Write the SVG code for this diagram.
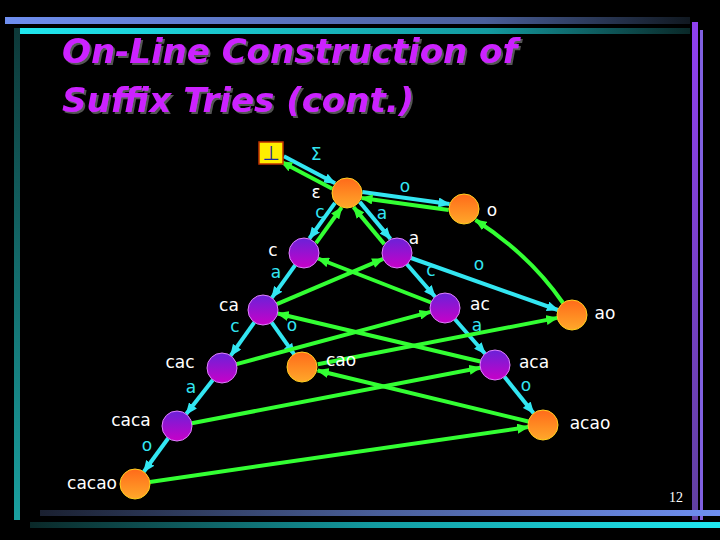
<svg xmlns="http://www.w3.org/2000/svg" width="720" height="540" viewBox="0 0 720 540">
<defs>
<linearGradient id="pg" x1="0" y1="0" x2="0" y2="1"><stop offset="0" stop-color="#6a22d8"/><stop offset="1" stop-color="#c800c8"/></linearGradient>
<linearGradient id="og" x1="0" y1="0" x2="0" y2="1"><stop offset="0" stop-color="#ff6a1a"/><stop offset="1" stop-color="#ffa82a"/></linearGradient>
<linearGradient id="bar1" x1="0" y1="0" x2="1" y2="0"><stop offset="0" stop-color="#6f8ff0"/><stop offset="0.7" stop-color="#4a5f9a"/><stop offset="1" stop-color="#101820"/></linearGradient>
<linearGradient id="bar2" x1="0" y1="0" x2="1" y2="0"><stop offset="0" stop-color="#20e8f0"/><stop offset="0.7" stop-color="#139aa0"/><stop offset="1" stop-color="#0a2828"/></linearGradient>
<linearGradient id="bar3" x1="0" y1="0" x2="1" y2="0"><stop offset="0" stop-color="#1a2030"/><stop offset="0.5" stop-color="#4a5f9a"/><stop offset="1" stop-color="#6f8ff0"/></linearGradient>
<linearGradient id="bar4" x1="0" y1="0" x2="1" y2="0"><stop offset="0" stop-color="#0a2828"/><stop offset="0.5" stop-color="#139aa0"/><stop offset="1" stop-color="#20e8f0"/></linearGradient>
<linearGradient id="vl" x1="0" y1="0" x2="0" y2="1"><stop offset="0" stop-color="#0d3838"/><stop offset="1" stop-color="#1aa0a0"/></linearGradient>
<linearGradient id="vr" x1="0" y1="0" x2="0" y2="1"><stop offset="0" stop-color="#9040f0"/><stop offset="1" stop-color="#6040a0"/></linearGradient>
<filter id="sh" x="-5%" y="-20%" width="110%" height="140%"><feDropShadow dx="2" dy="2" stdDeviation="0.5" flood-color="#555"/></filter>
<marker id="ac" markerUnits="userSpaceOnUse" markerWidth="12" markerHeight="10" refX="11" refY="5" orient="auto"><path d="M0,0L12,5L0,10z" fill="#33e6f2"/></marker>
<marker id="ag" markerUnits="userSpaceOnUse" markerWidth="12" markerHeight="10" refX="11" refY="5" orient="auto"><path d="M0,0L12,5L0,10z" fill="#33ff33"/></marker>
</defs>
<style>
.cy{stroke:#33e6f2;stroke-width:4;fill:none;marker-end:url(#ac)}
.gr{stroke:#33ff33;stroke-width:4;fill:none;marker-end:url(#ag)}
.pn{fill:url(#pg);stroke:#e080ff;stroke-width:1}
.on{fill:url(#og);stroke:#ffd020;stroke-width:1}
.nl{font-family:"DejaVu Sans",sans-serif;font-size:17px;fill:#ffffff;text-anchor:middle}
.el{font-family:"DejaVu Sans",sans-serif;font-size:17px;fill:#33e6f2;text-anchor:middle}
.ti{font-family:"DejaVu Sans",sans-serif;font-size:34px;font-weight:bold;font-style:italic;fill:#cc22ff}
</style>
<rect width="720" height="540" fill="#000"/>
<g id="frame">
<rect x="5" y="17" width="685" height="7" fill="url(#bar1)"/>
<rect x="16" y="28" width="674" height="6" fill="url(#bar2)"/>
<rect x="14" y="28" width="6" height="492" fill="url(#vl)"/>
<rect x="692" y="22" width="6" height="498" fill="url(#vr)"/>
<rect x="700" y="30" width="3" height="490" fill="#8060e0"/>
<rect x="40" y="510" width="680" height="6" fill="url(#bar3)"/>
<rect x="30" y="522" width="690" height="6" fill="url(#bar4)"/>
</g>
<g id="title" class="ti" filter="url(#sh)">
<text x="62" y="63">On-Line Construction of</text>
<text x="62" y="112">Suffix Tries (cont.)</text>
</g>
<g id="connectors">
<line class="cy" x1="283.9" y1="156.3" x2="335.1" y2="183.3"/>
<line class="cy" x1="362.3" y1="192" x2="449.5" y2="204"/>
<line class="cy" x1="335" y1="202.9" x2="309.4" y2="238.5"/>
<line class="cy" x1="359.7" y1="201.9" x2="390.5" y2="238.9"/>
<line class="cy" x1="295.2" y1="265.2" x2="271.8" y2="297.8"/>
<line class="cy" x1="406.9" y1="264.3" x2="435.1" y2="296.7"/>
<line class="cy" x1="411.1" y1="258" x2="557.9" y2="310"/>
<line class="cy" x1="254.3" y1="322.3" x2="230.7" y2="355.7"/>
<line class="cy" x1="271.6" y1="322.3" x2="294.4" y2="354.7"/>
<line class="cy" x1="454.9" y1="319.3" x2="485.1" y2="353.7"/>
<line class="cy" x1="212.8" y1="379.9" x2="186.2" y2="414.1"/>
<line class="cy" x1="504.4" y1="376.7" x2="533.6" y2="413.3"/>
<line class="cy" x1="168.2" y1="438.2" x2="143.8" y2="471.8"/>
<line class="gr" x1="332.3" y1="188.7" x2="281.1" y2="161.7"/>
<line class="gr" x1="448.7" y1="210" x2="361.5" y2="198"/>
<line class="gr" x1="316" y1="243.1" x2="341.6" y2="207.5"/>
<line class="gr" x1="384.3" y1="244.1" x2="353.5" y2="207.1"/>
<line class="gr" x1="276.8" y1="304.1" x2="383.2" y2="258.9"/>
<line class="gr" x1="431" y1="302.5" x2="318" y2="258.5"/>
<path class="gr" d="M563,303 Q530,255 475.5,220"/>
<line class="gr" x1="236.5" y1="364.1" x2="430.5" y2="311.9"/>
<line class="gr" x1="317.7" y1="364.2" x2="557.3" y2="317.9"/>
<line class="gr" x1="480.4" y1="361.5" x2="277.6" y2="313.5"/>
<line class="gr" x1="191.7" y1="423.2" x2="480.3" y2="367.8"/>
<line class="gr" x1="528.4" y1="421.5" x2="317.6" y2="370.5"/>
<line class="gr" x1="149.9" y1="481.9" x2="528.2" y2="427.1"/>
</g>
<g id="edge-labels" class="el">
<text x="316" y="160">Σ</text>
<text x="320" y="218">c</text>
<text x="382" y="219">a</text>
<text x="405" y="192">o</text>
<text x="276" y="278">a</text>
<text x="431" y="276">c</text>
<text x="479" y="270">o</text>
<text x="235" y="332">c</text>
<text x="292" y="331">o</text>
<text x="477" y="331">a</text>
<text x="191" y="393">a</text>
<text x="526" y="391">o</text>
<text x="147" y="451">o</text>
</g>
<g id="n-bottom"><rect x="259" y="142" width="24" height="22" fill="#ffee00" stroke="#c03000" stroke-width="1.5"/><text x="271" y="160" font-family="DejaVu Sans,sans-serif" font-size="20" fill="#1a2aa0" text-anchor="middle">⊥</text></g>
<g id="n-eps"><circle class="on" cx="347" cy="193" r="15"/><text class="nl" x="316" y="198">ε</text></g>
<g id="n-o"><circle class="on" cx="464" cy="209" r="15"/><text class="nl" x="492" y="216">o</text></g>
<g id="n-c"><circle class="pn" cx="304" cy="253" r="15"/><text class="nl" x="273" y="256">c</text></g>
<g id="n-a"><circle class="pn" cx="397" cy="253" r="15"/><text class="nl" x="414" y="244">a</text></g>
<g id="n-ca"><circle class="pn" cx="263" cy="310" r="15"/><text class="nl" x="229" y="311">ca</text></g>
<g id="n-ac"><circle class="pn" cx="445" cy="308" r="15"/><text class="nl" x="480" y="310">ac</text></g>
<g id="n-ao"><circle class="on" cx="572" cy="315" r="15"/><text class="nl" x="605" y="319">ao</text></g>
<g id="n-cac"><circle class="pn" cx="222" cy="368" r="15"/><text class="nl" x="180" y="368">cac</text></g>
<g id="n-cao"><circle class="on" cx="302" cy="367" r="15"/><text class="nl" x="341" y="366">cao</text></g>
<g id="n-aca"><circle class="pn" cx="495" cy="365" r="15"/><text class="nl" x="534" y="368">aca</text></g>
<g id="n-caca"><circle class="pn" cx="177" cy="426" r="15"/><text class="nl" x="131" y="426">caca</text></g>
<g id="n-acao"><circle class="on" cx="543" cy="425" r="15"/><text class="nl" x="590" y="429">acao</text></g>
<g id="n-cacao"><circle class="on" cx="135" cy="484" r="15"/><text class="nl" x="92" y="489">cacao</text></g>
<text x="676" y="502" font-family="Liberation Serif,serif" font-size="14" fill="#ffffff" text-anchor="middle">12</text>
</svg>
